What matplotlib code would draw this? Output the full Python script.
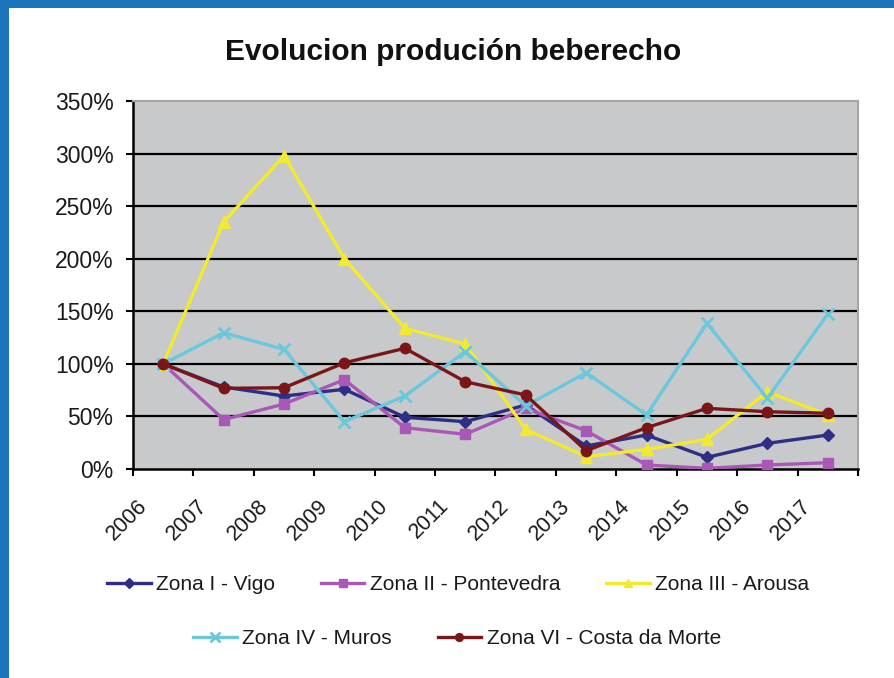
import matplotlib
matplotlib.use('Agg')
import matplotlib.pyplot as plt
import matplotlib.transforms as mtransforms
from matplotlib.patches import Rectangle
import numpy as np

plt.rcParams['font.family'] = ['Liberation Sans', 'DejaVu Sans']

years = ['2006', '2007', '2008', '2009', '2010', '2011',
         '2012', '2013', '2014', '2015', '2016', '2017']
zona_i_vigo = [100, 78, 69.4, 75.8, 49.2, 45, 60.9, 21.9, 32.3, 11.1, 24.4, 32.3]
zona_ii_pontevedra = [100, 47, 61.8, 85, 39.3, 33, 57.7, 36.4, 3.8, 0.6, 3.8, 6]
zona_iii_arousa = [100, 235, 298, 200, 133.8, 118.9, 37.7, 11.7, 18.7, 28.2, 73.5, 51.4]
zona_iv_muros = [100, 129.6, 113.8, 45, 69.4, 111.6, 60, 91.6, 51.4, 138.6, 67.2, 147.4]
zona_vi_costa = [100, 76.7, 77.3, 101, 114.8, 83, 70.4, 17.4, 39.3, 57.7, 54.5, 53]

series_names = ['Zona I - Vigo', 'Zona II - Pontevedra', 'Zona III - Arousa',
                'Zona IV - Muros', 'Zona VI - Costa da Morte']
series_values = [zona_i_vigo, zona_ii_pontevedra, zona_iii_arousa,
                 zona_iv_muros, zona_vi_costa]
colors = ['#2E2E84', '#A958B8', '#F2EA2E', '#6BC8DC', '#7B1618']
markers = ['D', 's', '^', 'x', 'o']
msizes = [6.5, 7, 8, 9, 7.5]

W, H = 895, 678
fig = plt.figure(figsize=(W / 100, H / 100), dpi=100)
fig.patch.set_facecolor('white')

# blue frame (top and left)
fig.patches.append(Rectangle((0, 1 - 7.5 / H), 1, 7.5 / H, transform=fig.transFigure,
                             facecolor='#1C74BB', edgecolor='none', zorder=0))
fig.patches.append(Rectangle((0, 0), 8.5 / W, 1, transform=fig.transFigure,
                             facecolor='#1C74BB', edgecolor='none', zorder=0))

left, right, top, bottom = 133, 858, 101, 469
ax = fig.add_axes([left / W, 1 - bottom / H, (right - left) / W, (bottom - top) / H])
ax.set_facecolor('#C8C9CB')

x = np.arange(len(years))
lines = []
for name, vals, c, m, ms in zip(series_names, series_values, colors, markers, msizes):
    mew = 2.0 if m == 'x' else 1.0
    ln, = ax.plot(x, vals, color=c, lw=2.4, marker=m, markersize=ms,
                  markerfacecolor=c, markeredgecolor=c, markeredgewidth=mew,
                  label=name, zorder=3, solid_joinstyle='round')
    lines.append(ln)

ax.set_xlim(-0.5, len(years) - 0.5)
ax.set_ylim(0, 350)

# gridlines
for g in range(50, 350, 50):
    ax.axhline(g, color='black', lw=1.6, zorder=2)

ax.set_yticks(np.arange(0, 351, 50))
ax.set_yticklabels([f'{v}%' for v in range(0, 351, 50)])
ax.tick_params(axis='y', direction='out', length=5, width=1.5, pad=9,
               labelsize=16.5, labelcolor='#1a1a1a')

ax.set_xticks(np.arange(-0.5, len(years), 1.0))
ax.set_xticklabels([])
ax.set_xticks(x, minor=True)
ax.set_xticklabels(years, minor=True, rotation=45, ha='right', va='top',
                   fontsize=15.5, color='#1a1a1a')
ax.tick_params(axis='x', which='major', direction='out', length=5, width=1.5)
ax.tick_params(axis='x', which='minor', length=0, pad=19)
offset = mtransforms.ScaledTranslation(-12 / 100, 0, fig.dpi_scale_trans)
for lab in ax.get_xticklabels(minor=True):
    lab.set_transform(lab.get_transform() + offset)

for s in ['left', 'bottom']:
    ax.spines[s].set_color('black')
    ax.spines[s].set_linewidth(1.8)
for s in ['top', 'right']:
    ax.spines[s].set_color('#A5A5A5')
    ax.spines[s].set_linewidth(1.5)

fig.text(453 / W, 1 - 52 / H, 'Evolucion produción beberecho', ha='center', va='center',
         fontsize=21.5, fontweight='bold', color='#111111')

leg_kw = dict(frameon=False, fontsize=15, handlelength=2.1, handletextpad=0.25,
              columnspacing=2.2, borderpad=0, borderaxespad=0, labelcolor='#1a1a1a',
              markerscale=0.75)
leg1 = fig.legend(lines[:3], series_names[:3], loc='center', ncol=3,
                  bbox_to_anchor=(458 / W, 1 - 585 / H), **leg_kw)
leg2 = fig.legend(lines[3:], series_names[3:], loc='center', ncol=2,
                  bbox_to_anchor=(457 / W, 1 - 639 / H), **leg_kw)

fig.savefig('out.png', dpi=100, facecolor=fig.get_facecolor())
